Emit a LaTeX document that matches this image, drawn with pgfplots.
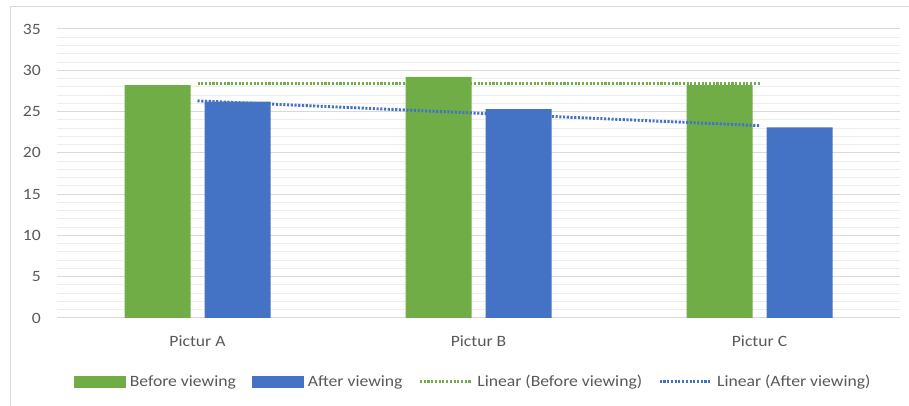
\documentclass[border=0pt]{standalone}
\usepackage{fontspec}
\setmainfont{Carlito}[FakeStretch=1.12]
\usepackage{pgfplots}
\pgfplotsset{compat=1.18}
\definecolor{cgreen}{HTML}{70AD47}
\definecolor{cblue}{HTML}{4472C4}
\definecolor{ctext}{HTML}{595959}
\definecolor{cmajor}{HTML}{D9D9D9}
\definecolor{cminor}{HTML}{EDEDED}
\begin{document}
\begin{tikzpicture}
\useasboundingbox (0,0) rectangle (681.75pt,304.5pt);
\draw[cmajor, line width=0.75pt] (7.5pt,-5pt) -- (7.5pt,299.25pt) -- (690pt,299.25pt);
\begin{axis}[
  at={(42.75pt,66pt)}, anchor=south west,
  scale only axis, width=632.25pt, height=216.75pt,
  xmin=-0.5, xmax=2.5, ymin=0, ymax=35,
  xtick={0,1,2}, xticklabels={Pictur A, Pictur B, Pictur C},
  ytick={0,5,...,35},
  minor y tick num=4,
  ymajorgrids, yminorgrids,
  major grid style={cmajor, line width=0.75pt},
  minor grid style={cminor, line width=0.75pt},
  axis line style={draw=none},
  tick style={draw=none},
  /pgf/number format/assume math mode=true,
  tick label style={font=\fontsize{11.8}{14}\selectfont, text=ctext},
  yticklabel style={anchor=east, inner sep=0pt, xshift=-12pt},
  xticklabel style={anchor=base, inner sep=0pt, yshift=-21.5pt},
  legend columns=-1,
  legend style={at={(axis description cs:0.0196,-0.2204)}, anchor=west,
    draw=none, inner sep=0pt, font=\fontsize{11.8}{14}\selectfont, text=ctext,
    nodes={inner sep=0pt},
    /tikz/every odd column/.append style={column sep=3pt},
    /tikz/every even column/.append style={column sep=12pt}},
]
\addplot[ybar, bar width=49.5pt, bar shift=-30pt, fill=cgreen, draw=none,
  legend image code/.code={\fill[cgreen] (0pt,-4.5pt) rectangle (39pt,4.5pt);}]
  coordinates {(0,28.2) (1,29.2) (2,28.2)};
\addlegendentry{Before viewing}
\addplot[ybar, bar width=49.5pt, bar shift=30pt, fill=cblue, draw=none,
  legend image code/.code={\fill[cblue] (0pt,-4.5pt) rectangle (39pt,4.5pt);}]
  coordinates {(0,26.2) (1,25.3) (2,23.1)};
\addlegendentry{After viewing}
\addplot[cgreen, line width=2.2pt, dash pattern=on 1.6pt off 1.2pt, mark=none,
  legend image code/.code={\draw[cgreen, line width=2.2pt, dash pattern=on 1.6pt off 1.2pt] (0pt,0pt) -- (39pt,0pt);}]
  coordinates {(0,28.45) (2,28.45)};
\addlegendentry{Linear (Before viewing)}
\addplot[cblue, line width=2.2pt, dash pattern=on 1.6pt off 1.2pt, mark=none,
  legend image code/.code={\draw[cblue, line width=2.2pt, dash pattern=on 1.6pt off 1.2pt] (0pt,0pt) -- (39pt,0pt);}]
  coordinates {(0,26.3) (2,23.3)};
\addlegendentry{Linear (After viewing)}
\end{axis}
\end{tikzpicture}
\end{document}
